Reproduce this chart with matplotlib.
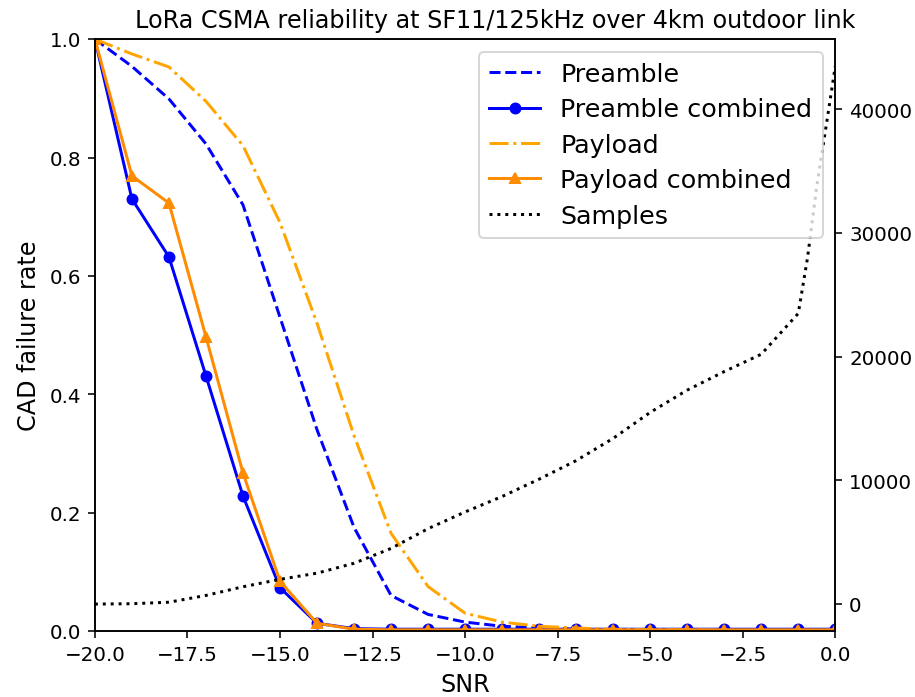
import numpy as np
import matplotlib
matplotlib.use('Agg')
from matplotlib import pyplot as plt

# CAD failure rate per SNR step
snr = [-20, -19, -18, -17, -16, -15, -14, -13, -12, -11,
       -10, -9, -8, -7, -6, -5, -4, -3, -2, -1, 0]
preamble = [1.0, 0.954, 0.899, 0.823, 0.72, 0.53, 0.34, 0.175, 0.06, 0.028,
            0.015, 0.008, 0.005, 0.003, 0.002, 0.002, 0.001, 0.001, 0.001, 0.001, 0.001]
preamble_combined = [1.0, 0.73, 0.632, 0.431, 0.228, 0.073, 0.013, 0.004, 0.003, 0.003,
                     0.003, 0.003, 0.003, 0.003, 0.003, 0.003, 0.003, 0.003, 0.003, 0.003, 0.003]
payload = [1.0, 0.975, 0.953, 0.895, 0.82, 0.69, 0.52, 0.33, 0.165, 0.075,
           0.03, 0.015, 0.008, 0.005, 0.003, 0.002, 0.002, 0.001, 0.001, 0.001, 0.001]
payload_combined = [1.0, 0.769, 0.723, 0.497, 0.267, 0.084, 0.013, 0.003, 0.002, 0.002,
                    0.002, 0.002, 0.002, 0.002, 0.002, 0.002, 0.002, 0.002, 0.002, 0.002, 0.002]

# number of samples collected at each SNR
snr_samples = [-20, -19, -18, -17, -16, -15, -14, -13, -12, -11,
               -10, -9, -8, -7, -6, -5, -4, -3, -2, -1,
               -0.75, -0.5, -0.25, 0]
samples = [0, 30, 150, 700, 1400, 2000, 2500, 3300, 4500, 6100,
           7450, 8700, 10100, 11600, 13400, 15500, 17300, 18800, 20200, 23500,
           28000, 33800, 38600, 43500]

fig, ax = plt.subplots(figsize=(6.4, 4.88), dpi=143)
fig.subplots_adjust(left=0.1037, right=0.9127, bottom=0.0946, top=0.9427)

l1, = ax.plot(snr, preamble, '--', color='blue', label='Preamble')
l2, = ax.plot(snr, preamble_combined, '-', color='blue', marker='o',
              markersize=5, label='Preamble combined')
l3, = ax.plot(snr, payload, '-.', color='orange', label='Payload')
l4, = ax.plot(snr, payload_combined, '-', color='darkorange', marker='^',
              markersize=5, label='Payload combined')
ax.set_xlim(-20, 0)
ax.set_ylim(0, 1)
ax.set_xlabel('SNR', fontsize=12)
ax.set_ylabel('CAD failure rate', fontsize=12)
ax.set_title('LoRa CSMA reliability at SF11/125kHz over 4km outdoor link', x=0.54)

ax2 = ax.twinx()
l5, = ax2.plot(snr_samples, samples, ':', color='black', label='Samples')

lines = [l1, l2, l3, l4, l5]
ax2.legend(lines, [l.get_label() for l in lines], loc='upper right',
           fontsize=12.8, labelspacing=0.45, borderaxespad=0.5)

plt.savefig('out.png')
